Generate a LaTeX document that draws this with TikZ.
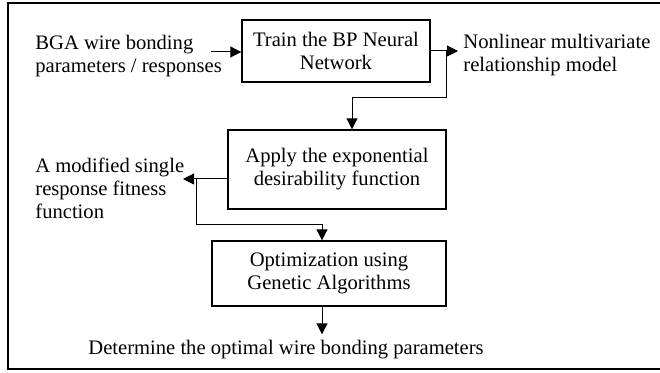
\documentclass[tikz,border=0pt]{standalone}
\usepackage{fontspec}
\setmainfont{Liberation Serif}
\usetikzlibrary{arrows.meta,positioning}

\begin{document}
\begin{tikzpicture}[x=0.5pt, y=-0.5pt,
  font=\fontsize{10.3}{11.5}\selectfont,
  stepbox/.style={draw, line width=0.7pt, align=center, inner sep=0pt},
  note/.style={align=left, inner sep=0pt, anchor=west},
  flow/.style={line width=0.5pt, -{Triangle[length=5.5pt,width=5.5pt]}}]
  \useasboundingbox (0,0) rectangle (660,373);

  % frame
  \draw[line width=0.7pt] (660,3) -- (8,3) -- (8,369) -- (660,369);

  % steps
  \node[stepbox, minimum width=94pt, minimum height=31pt] (train) at (336,51) {Train the BP Neural\\Network};
  \node[stepbox, minimum width=109pt, minimum height=39.5pt] (apply) at (337,169.5) {Apply the exponential\\desirability function};
  \node[stepbox, minimum width=117pt, minimum height=32.5pt] (opt) at (329,273.5) {Optimization using\\Genetic Algorithms};

  % side texts
  \node[note] (inp) at (35,56) {BGA wire bonding\\parameters / responses};
  \node[note] (nonlin) at (463,55) {Nonlinear multivariate\\relationship model};
  \node[note] (fit) at (35,188) {A modified single\\response fitness\\function};
  \node[inner sep=0pt, anchor=base west] (result) at (88,355) {Determine the optimal wire bonding parameters};

  % bends
  \coordinate (inpend) at (211,52);
  \coordinate (split) at (446,51);
  \coordinate (bend1) at (446,98);
  \coordinate (fitend) at (183,179);
  \coordinate (split2) at (196,179);
  \coordinate (bend2) at (196,225);

  % connectors
  \draw[flow] (inpend) -- (train.west |- inpend);
  \draw[flow, shorten >=2.5pt] (train.east) -- (nonlin.west |- train.east);
  \draw[flow] (split) -- (bend1) -| ([xshift=7.5pt]apply.north);
  \draw[flow] ([yshift=-4.75pt]apply.west) -- (fitend);
  \draw[flow] (split2) -- (bend2) -| ([xshift=-3.5pt]opt.north);
  \draw[flow, shorten >=3pt] ([xshift=-3.5pt]opt.south) -- ([xshift=-3.5pt]opt.south |- result.north);
\end{tikzpicture}
\end{document}
